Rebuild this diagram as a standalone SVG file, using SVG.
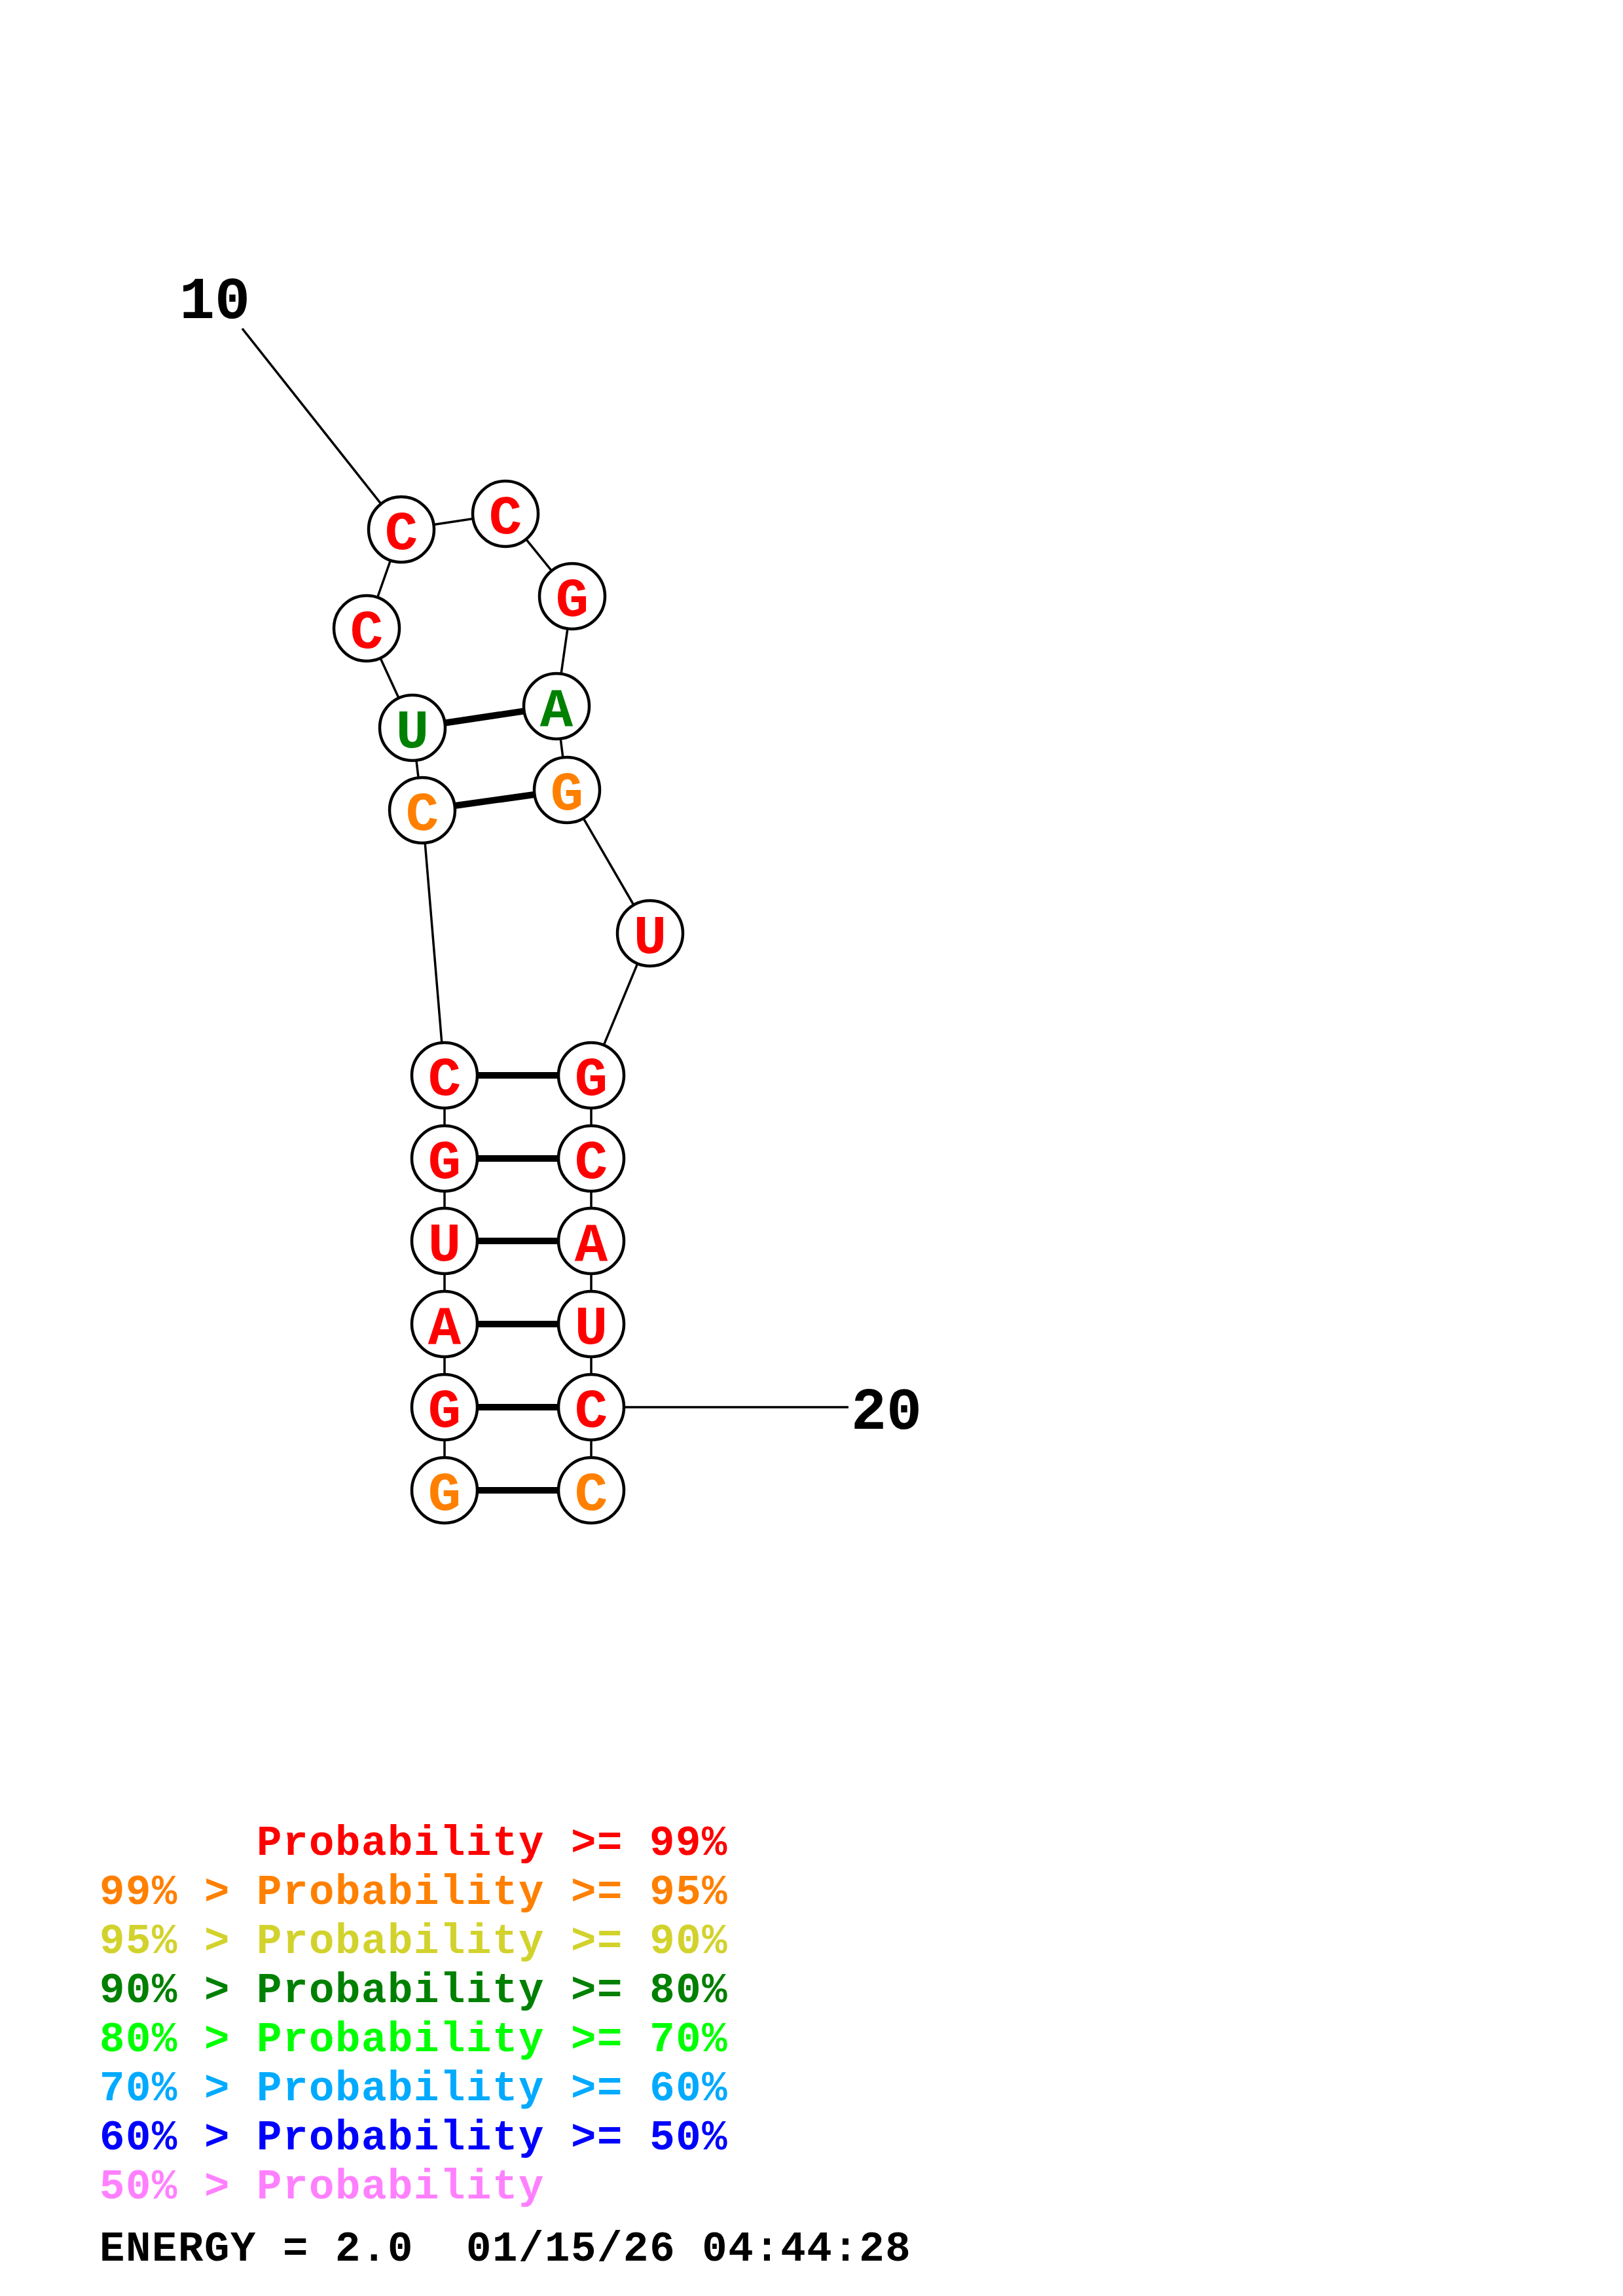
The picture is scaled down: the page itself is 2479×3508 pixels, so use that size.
<svg xmlns="http://www.w3.org/2000/svg" width="2479" height="3508" viewBox="0 0 2479 3508">
<style>
.bb{stroke:#000;stroke-width:3.5;fill:none}
.bp{stroke:#000;stroke-width:10;fill:none}
.nc{fill:#fff;stroke:#000;stroke-width:4.5}
.nt{font-family:"Liberation Mono","DejaVu Sans Mono",monospace;font-weight:bold;font-size:84px;text-anchor:middle}
.lb{font-family:"Liberation Mono","DejaVu Sans Mono",monospace;font-weight:bold;font-size:90px;fill:#000}
.lg{font-family:"Liberation Mono","DejaVu Sans Mono",monospace;font-weight:bold;font-size:64px;letter-spacing:1.6px}
.r{fill:#FF0000}.o{fill:#FF8000}.y{fill:#D2D22D}.g{fill:#008000}.lgn{fill:#00FF00}.lb2{fill:#00AAFF}.b{fill:#0000FF}.p{fill:#FF80FF}.k{fill:#000}
</style>
<rect width="2479" height="3508" fill="#fff"/>
<g id="connectors">
<polyline class="bb" points="370,502 613,809 772,785 874,911 850,1079 866,1207 993,1426 903,1643 903,1770 903,1896 903,2023 903,2150 903,2277"/>
<polyline class="bb" points="613,809 560,960 630,1112 645,1238 679,1643 679,1770 679,1896 679,2023 679,2150 679,2277"/>
<line class="bb" x1="903" y1="2150" x2="1296" y2="2150"/>
<line class="bp" x1="679" y1="2277" x2="903" y2="2277"/>
<line class="bp" x1="679" y1="2150" x2="903" y2="2150"/>
<line class="bp" x1="679" y1="2023" x2="903" y2="2023"/>
<line class="bp" x1="679" y1="1896" x2="903" y2="1896"/>
<line class="bp" x1="679" y1="1770" x2="903" y2="1770"/>
<line class="bp" x1="679" y1="1643" x2="903" y2="1643"/>
<line class="bp" x1="645" y1="1238" x2="866" y2="1207"/>
<line class="bp" x1="630" y1="1112" x2="850" y2="1079"/>
</g>
<g id="n1"><circle class="nc" cx="679" cy="2277" r="50"/><text class="nt o" x="679" y="2307">G</text></g>
<g id="n2"><circle class="nc" cx="679" cy="2150" r="50"/><text class="nt r" x="679" y="2180">G</text></g>
<g id="n3"><circle class="nc" cx="679" cy="2023" r="50"/><text class="nt r" x="679" y="2053">A</text></g>
<g id="n4"><circle class="nc" cx="679" cy="1896" r="50"/><text class="nt r" x="679" y="1926">U</text></g>
<g id="n5"><circle class="nc" cx="679" cy="1770" r="50"/><text class="nt r" x="679" y="1800">G</text></g>
<g id="n6"><circle class="nc" cx="679" cy="1643" r="50"/><text class="nt r" x="679" y="1673">C</text></g>
<g id="n7"><circle class="nc" cx="645" cy="1238" r="50"/><text class="nt o" x="645" y="1268">C</text></g>
<g id="n8"><circle class="nc" cx="630" cy="1112" r="50"/><text class="nt g" x="630" y="1142">U</text></g>
<g id="n9"><circle class="nc" cx="560" cy="960" r="50"/><text class="nt r" x="560" y="990">C</text></g>
<g id="n10"><circle class="nc" cx="613" cy="809" r="50"/><text class="nt r" x="613" y="839">C</text></g>
<g id="n11"><circle class="nc" cx="772" cy="785" r="50"/><text class="nt r" x="772" y="815">C</text></g>
<g id="n12"><circle class="nc" cx="874" cy="911" r="50"/><text class="nt r" x="874" y="941">G</text></g>
<g id="n13"><circle class="nc" cx="850" cy="1079" r="50"/><text class="nt g" x="850" y="1109">A</text></g>
<g id="n14"><circle class="nc" cx="866" cy="1207" r="50"/><text class="nt o" x="866" y="1237">G</text></g>
<g id="n15"><circle class="nc" cx="993" cy="1426" r="50"/><text class="nt r" x="993" y="1456">U</text></g>
<g id="n16"><circle class="nc" cx="903" cy="1643" r="50"/><text class="nt r" x="903" y="1673">G</text></g>
<g id="n17"><circle class="nc" cx="903" cy="1770" r="50"/><text class="nt r" x="903" y="1800">C</text></g>
<g id="n18"><circle class="nc" cx="903" cy="1896" r="50"/><text class="nt r" x="903" y="1926">A</text></g>
<g id="n19"><circle class="nc" cx="903" cy="2023" r="50"/><text class="nt r" x="903" y="2053">U</text></g>
<g id="n20"><circle class="nc" cx="903" cy="2150" r="50"/><text class="nt r" x="903" y="2180">C</text></g>
<g id="n21"><circle class="nc" cx="903" cy="2277" r="50"/><text class="nt o" x="903" y="2307">C</text></g>
<g id="labels">
<text class="lb" x="274" y="486">10</text>
<text class="lb" x="1300" y="2183">20</text>
</g>
<g id="legend">
<text class="lg r" x="392" y="2834">Probability &gt;= 99%</text>
<text class="lg o" x="152" y="2909">99% &gt; Probability &gt;= 95%</text>
<text class="lg y" x="152" y="2984">95% &gt; Probability &gt;= 90%</text>
<text class="lg g" x="152" y="3059">90% &gt; Probability &gt;= 80%</text>
<text class="lg lgn" x="152" y="3134">80% &gt; Probability &gt;= 70%</text>
<text class="lg lb2" x="152" y="3209">70% &gt; Probability &gt;= 60%</text>
<text class="lg b" x="152" y="3284">60% &gt; Probability &gt;= 50%</text>
<text class="lg p" x="152" y="3359">50% &gt; Probability</text>
<text class="lg k" x="152" y="3454" xml:space="preserve">ENERGY = 2.0  01/15/26 04:44:28</text>
</g>
</svg>
